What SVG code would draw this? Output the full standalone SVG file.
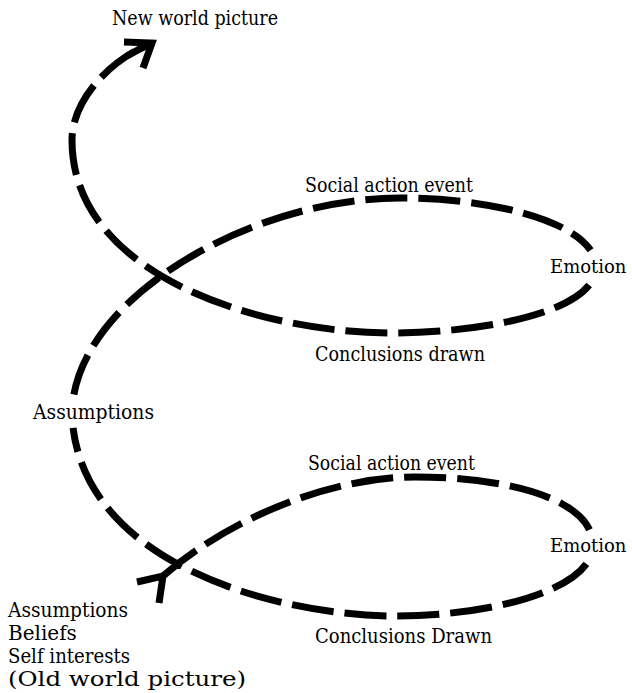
<svg xmlns="http://www.w3.org/2000/svg" width="632" height="693" viewBox="0 0 632 693">
<style>
.lbl{font-family:"DejaVu Serif","Liberation Serif",serif;font-size:20px;fill:#000}
.sm{font-size:18px}
.curve{fill:none;stroke:#000;stroke-width:7;stroke-dasharray:42 11}
.head{fill:none;stroke:#000;stroke-width:7;stroke-linejoin:miter;stroke-linecap:butt}
</style>
<rect width="632" height="693" fill="#fff"/>
<g id="connectors">
<path class="curve" d="M163,576 C230,518 330,477 415,477 C498.6,477 572.9,494.8 589.5,529.7 M586.4,563.9 C562.3,597.2 475.75,616 395,616 C283.45,616 90.1,568 73.06,427.8 M73.88,394.5 C93.26,288.13 259,198 400,198 C486,198 569,218 590.6,250.3 M589.2,285 C564.3,316.4 475,333 390,333 C270,333 72,280 72,140 C72,100 110,60 150,44"/>
<path class="head" d="M127,56 Q139,49 150,44"/>
<polyline class="head" points="124,42 152,43 143,68"/>
<polyline class="head" points="137,582 163,576 159,603"/>
</g>
<g id="new-world-picture"><text class="lbl" x="112" y="25" textLength="166" lengthAdjust="spacingAndGlyphs">New world picture</text></g>
<g id="social-action-event-1"><text class="lbl" x="305" y="192" textLength="168" lengthAdjust="spacingAndGlyphs">Social action event</text></g>
<g id="emotion-1"><text class="lbl sm" x="550" y="273">Emotion</text></g>
<g id="conclusions-drawn-1"><text class="lbl" x="315" y="361" textLength="170" lengthAdjust="spacingAndGlyphs">Conclusions drawn</text></g>
<g id="assumptions-1"><text class="lbl" x="33" y="419" textLength="121" lengthAdjust="spacingAndGlyphs">Assumptions</text></g>
<g id="social-action-event-2"><text class="lbl" x="308" y="470" textLength="167" lengthAdjust="spacingAndGlyphs">Social action event</text></g>
<g id="emotion-2"><text class="lbl sm" x="550" y="552">Emotion</text></g>
<g id="conclusions-drawn-2"><text class="lbl" x="315" y="643" textLength="177" lengthAdjust="spacingAndGlyphs">Conclusions Drawn</text></g>
<g id="old-world-picture">
<text class="lbl" x="8" y="617" textLength="120" lengthAdjust="spacingAndGlyphs">Assumptions</text>
<text class="lbl" x="8" y="640">Beliefs</text>
<text class="lbl" x="8" y="663" textLength="122" lengthAdjust="spacingAndGlyphs">Self interests</text>
<text class="lbl" x="8" y="686" textLength="238" lengthAdjust="spacingAndGlyphs">(Old world picture)</text>
</g>
</svg>
